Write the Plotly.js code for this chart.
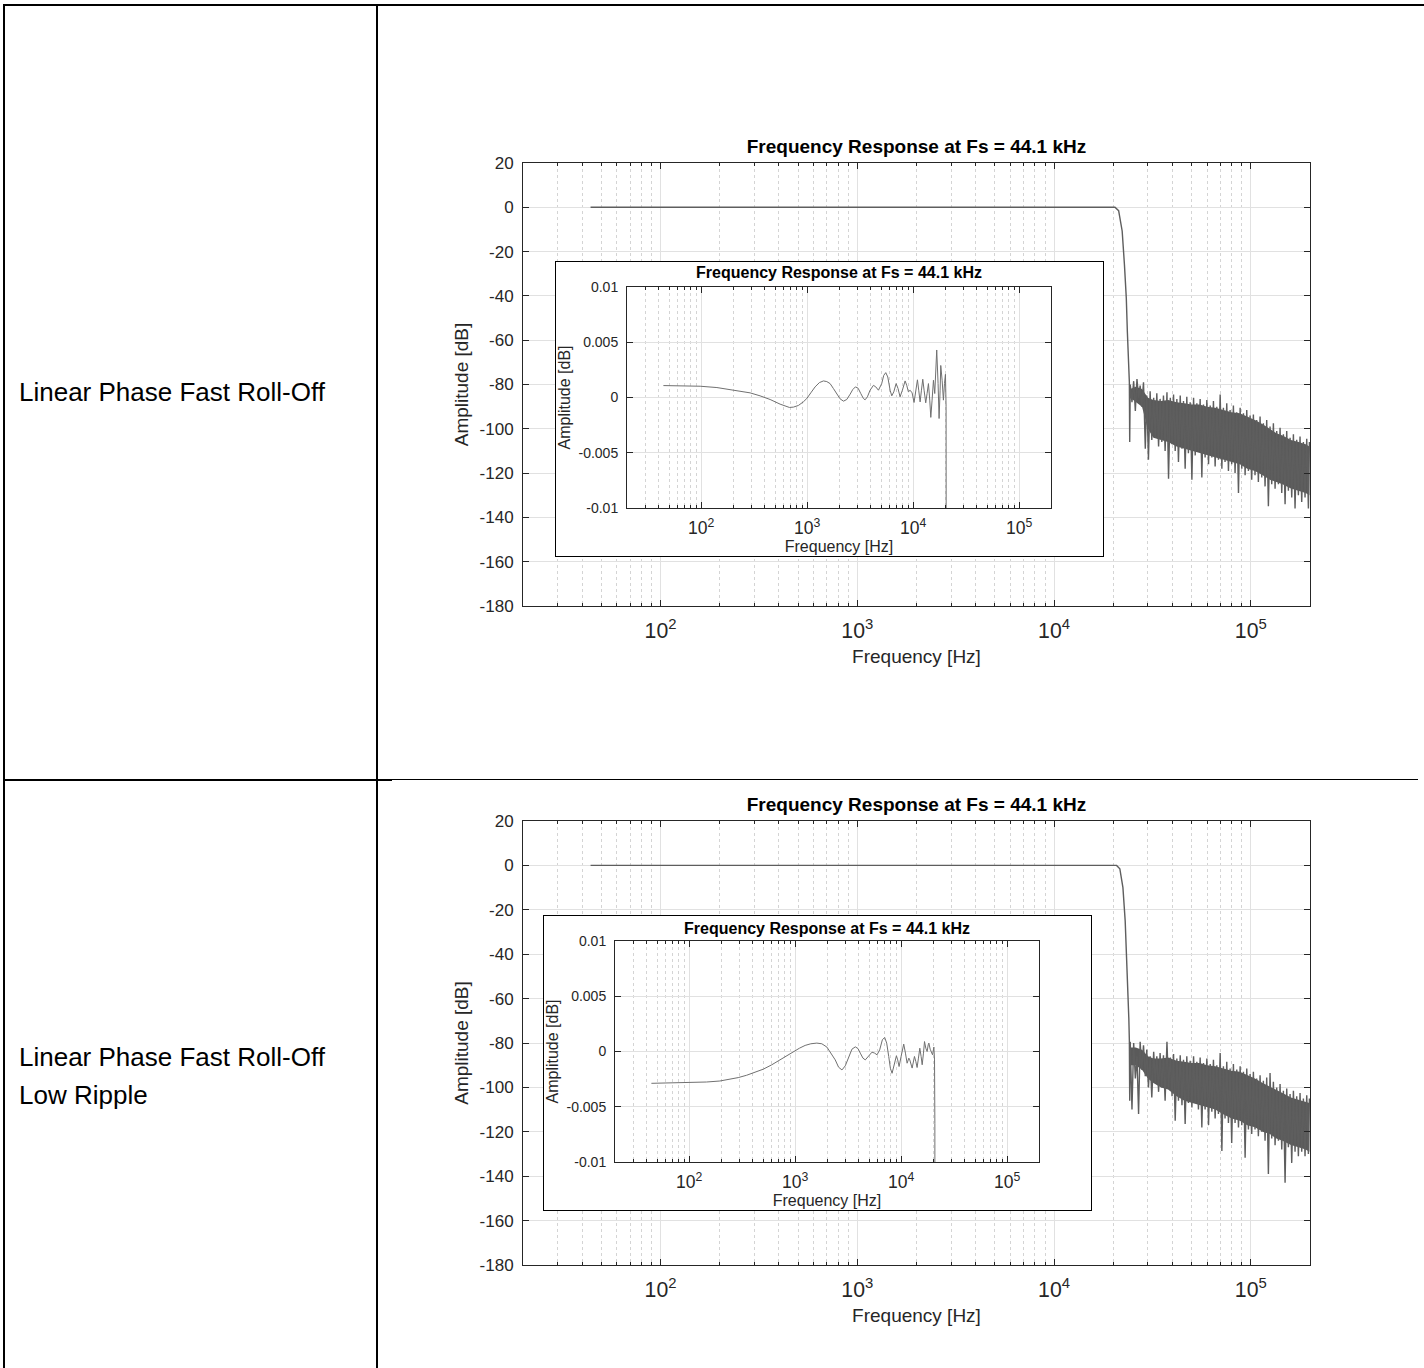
<!DOCTYPE html>
<html>
<head>
<meta charset="utf-8">
<script src="https://cdn.plot.ly/plotly-3.0.1.min.js"></script>
<style>
  html,body{margin:0;padding:0;}
  body{width:1424px;height:1368px;position:relative;background:#fff;overflow:hidden;}
  .ln{position:absolute;background:#000;}
  .lbl{position:absolute;left:19px;font-family:"Liberation Sans",Arial,sans-serif;font-size:26px;color:#000;line-height:38px;white-space:nowrap;}
  .chart{position:absolute;}
  .inset{position:absolute;box-sizing:border-box;border:1.3px solid #000;background:#fff;overflow:hidden;}
</style>
</head>
<body>
<!-- table grid -->
<div class="ln" style="left:3px;top:4px;width:1421px;height:2px"></div>
<div class="ln" style="left:3px;top:4px;width:2px;height:1364px"></div>
<div class="ln" style="left:376px;top:4px;width:2px;height:1364px"></div>
<div class="ln" style="left:3px;top:779px;width:389px;height:2px"></div>
<div class="ln" style="left:392px;top:779px;width:1026px;height:1px"></div>

<div class="lbl" style="top:373px">Linear Phase Fast Roll-Off</div>
<div class="lbl" style="top:1038px">Linear Phase Fast Roll-Off<br>Low Ripple</div>

<div id="main1" class="chart" style="left:380px;top:110px;width:1040px;height:600px"></div>
<div class="inset" style="left:555px;top:261px;width:549px;height:296px"><div id="inset1" style="width:547px;height:294px"></div></div>

<div id="main2" class="chart" style="left:380px;top:782px;width:1040px;height:586px"></div>
<div class="inset" style="left:543px;top:915px;width:549px;height:296px"><div id="inset2" style="width:547px;height:294px"></div></div>

<script>
// ---------------- DATA ----------------
const chartTitle = 'Frequency Response at Fs = 44.1 kHz';
const xTitle = 'Frequency [Hz]';
const yTitle = 'Amplitude [dB]';
const mainYTicks = [-180, -160, -140, -120, -100, -80, -60, -40, -20, 0, 20];
const insetYTicks = [-0.01, -0.005, 0, 0.005, 0.01];
const insetYLabels = ['-0.01', '-0.005', '0', '0.005', '0.01'];

// Chart 1: passband + transition (Hz, dB)
const passF1 = [44.1, 100, 1000, 10000, 20400, 21300, 22200, 22800, 23300, 23600, 24000, 24150, 24250];
const passDb1 = [0, 0, 0, 0, 0, -1.5, -10.7, -26, -41, -56.5, -70, -79, -106];
// Chart 1: stopband noise (Hz, dB)
const noiseF1 = [24400,24900,25400,25900,26400,26900,27400,27900,28500,29100,29600,30200,30800,31400,32100,32700,33300,34000,34600,35300,36000,36700,37500,38200,39000,39800,40500,41300,42100,42900,43800,44700,45500,46400,47300,48200,49200,50200,51200,52200,53200,54200,55300,56400,57500,58600,59800,61000,62200,63400,64600,65900,67200,68500,69900,71300,72600,74000,75500,77000,78500,80000,81600,83200,84900,86600,88300,90000,91800,93600,95400,97300,99200,101100,103100,105100,107200,109300,111500,113700,115900,118200,120500,122900,125300,127800,130300,132900,135500,138200,140900,143700,146500,149400,152300,155300,158400,161500,164700,167900,171200,174600,178000,181500,185100,188700,192500,196300,198600];
const noiseDb1 = [-80,-88,-78.5,-92,-77.5,-86,-80.5,-90,-79,-109,-85,-114,-83,-105,-86,-104,-84,-108,-86.5,-106,-85,-110,-83.5,-122.5,-86,-107,-84.5,-110,-86.5,-115,-85,-109,-87.5,-118,-85.5,-111,-88,-123,-86,-112,-88.5,-110,-86.5,-122,-89,-113,-87,-116,-89.5,-113,-87.5,-117,-90,-114,-84.5,-118,-90.5,-115,-88.5,-119,-91.5,-116,-89.5,-120,-92.5,-129,-90.5,-118,-93,-121,-91.5,-119,-94,-123,-93.5,-121,-96,-124,-94.5,-122,-97.5,-126,-96,-135,-99,-125,-97.5,-127,-101,-125,-99.5,-129,-102.5,-134,-101,-128,-104,-131,-102.5,-136,-105,-130,-103.5,-133,-106,-131,-104.5,-136,-106];
// Chart 1: dense noise band envelope (Hz, dB)
const bandF1 = [24400,26000,28000,30000,32000,35000,38000,42000,46000,50000,55000,60000,66000,72000,80000,88000,96000,105000,115000,125000,135000,145000,160000,175000,190000,198600];
const bandTop1 = [-82,-81,-82,-86,-87,-87.5,-87,-88,-88.5,-89,-89,-90,-90.5,-91.5,-92.5,-93,-94.5,-96,-98,-100,-102,-103,-105,-106,-107,-108];
const bandBot1 = [-86,-88,-90,-100,-104,-105,-106,-108,-109,-110,-111,-112,-113,-114,-115,-116,-118,-119,-121,-123,-124,-125,-127,-128,-129,-130];

// Chart 2: passband + transition (Hz, dB)
const passF2 = [44.1, 100, 1000, 10000, 20800, 21600, 22400, 23000, 23400, 23700, 24000, 24150, 24250];
const passDb2 = [0, 0, 0, 0, 0, -1.5, -10, -25, -40, -55, -69, -79, -106];
// Chart 2: stopband noise (Hz, dB)
const noiseF2 = [24400,24900,25400,25900,26400,26900,27400,27900,28500,29100,29600,30200,30800,31400,32100,32700,33300,34000,34600,35300,36000,36700,37500,38200,39000,39800,40500,41300,42100,42900,43800,44700,45500,46400,47300,48200,49200,50200,51200,52200,53200,54200,55300,56400,57500,58600,59800,61000,62200,63400,64600,65900,67200,68500,69900,71300,72600,74000,75500,77000,78500,80000,81600,83200,84900,86600,88300,90000,91800,93600,95400,97300,99200,101100,103100,105100,107200,109300,111500,113700,115900,118200,120500,122900,125300,127800,130300,132900,135500,138200,140900,143700,146500,149400,152300,155300,158400,161500,164700,167900,171200,174600,178000,181500,185100,188700,192500,196300,198600];
const noiseDb2 = [-79.5,-110,-80,-96,-86,-112,-79.5,-92,-81,-95,-83,-100,-86,-104.5,-84,-98,-86,-102,-84.5,-100,-85.5,-106,-79.5,-100,-86.5,-104,-85,-115,-87,-106,-85.5,-108,-87.5,-116.5,-86,-107,-88,-109,-86,-107,-88.5,-110,-86.5,-118,-89,-110,-87,-117,-89.5,-111,-87.5,-114,-90,-112,-84.5,-128.7,-90.5,-114,-88.5,-116,-91.5,-125,-89.5,-116,-92,-118,-90.5,-117,-93,-131.7,-91.5,-119,-94,-121,-93,-119,-96,-122,-94.5,-120,-97,-124,-95.5,-139,-93.5,-123,-97.5,-126,-100,-124,-98.5,-128,-101.5,-143,-100.5,-127,-103,-134,-101.5,-129,-104,-131,-102.5,-129,-105,-131,-103.5,-130,-105];
const bandF2 = [24400,26000,28000,30000,32000,35000,38000,42000,46000,50000,55000,60000,66000,72000,80000,88000,96000,105000,115000,125000,135000,145000,160000,175000,190000,198600];
const bandTop2 = [-82,-82,-83,-86,-87,-87,-86.5,-88,-88.5,-89,-89,-90,-90.5,-91.5,-92.5,-93,-94.5,-96,-98,-99.5,-101,-102.5,-104.5,-105.5,-106.5,-107];
const bandBot2 = [-90,-90,-92,-96,-98,-100,-101,-104,-106,-107,-108,-109,-110,-112,-114,-115,-117,-118,-120,-121,-123,-124,-126,-127,-128,-129];

// Inset 1: passband ripple (Hz, dB)
const rippleF1 = [44.1,68,98,141,188,233,290,360,448,556,620,681,743,828,923,994,1084,1190,1307,1426,1534,1648,1772,1906,2048,2204,2368,2546,2698,2858,3029,3209,3400,3524,3707,3928,4227,4446,4712,5058,5284,5523,5770,6072,6293,6576,6918,7211,7534,7925,8408,8710,9036,9370,9790,10210,10590,10990,11300,11650,11990,12340,12700,13160,13550,13960,14360,14690,15110,15560,16010,16710,17210,17590,17990,18240,18790,19320,19770,20190,20480,20600,20650];
const rippleDb1 = [0.00108,0.00106,0.00102,0.0009,0.00072,0.0006,0.00042,0.00015,-0.00018,-0.0006,-0.00078,-0.0009,-0.00087,-0.00072,-0.00039,-0.00009,0.00042,0.00096,0.00135,0.0015,0.00144,0.00126,0.00081,0.00036,-0.00012,-0.00033,-0.00018,0.0003,0.00072,0.00096,0.00084,0.00036,-0.00009,-0.00021,0.00006,0.00066,0.0011,0.00096,0.00066,0.00126,0.002,0.00225,0.00186,0.00066,0.00015,0.00051,0.00126,0.00081,0.00006,0.00066,0.0015,0.0011,0.00051,0.00066,0.00042,-0.00045,0.00066,0.0016,0.00066,-0.0004,0.00066,0.00165,0.00066,-0.00048,0.00036,0.00126,-0.00024,-0.0018,-0.00024,0.00156,0.00036,0.0043,0.00126,-0.0019,0.00066,0.0029,0.00156,-0.00024,0.00126,0.0021,-0.00084,-0.0077,-0.05];

// Inset 2: passband ripple (Hz, dB)
const rippleF2 = [44.1,61,88,146,195,243,291,349,418,501,601,721,834,964,1099,1244,1407,1604,1788,1995,2192,2392,2572,2768,2974,3200,3439,3698,3920,4123,4368,4594,4943,5317,5634,5929,6283,6658,7000,7314,7643,7925,8220,8526,9036,9290,9575,10000,10590,10990,11400,11830,12080,12710,13370,13770,14160,14580,15020,15450,15810,16260,16630,17110,17610,18020,18280,18810,19360,19810,20380,20670,20830,20900];
const rippleDb2 = [-0.00288,-0.00286,-0.00285,-0.00276,-0.00267,-0.00251,-0.00236,-0.00215,-0.00191,-0.0016,-0.00121,-0.00076,-0.00036,0,0.0003,0.00055,0.0007,0.00076,0.0007,0.0004,-0.00015,-0.00076,-0.00142,-0.00167,-0.0013,-0.00045,0.00021,0.00042,0.00027,-0.00015,-0.0006,-0.00076,-0.00036,-0.00006,-0.00015,-0.0003,0.00015,0.00106,0.00127,0.00076,-0.00045,-0.00152,-0.00197,-0.00136,-0.00039,-0.00076,-0.00136,-0.00045,0.00067,-0.00015,-0.00106,-0.0006,-0.00076,-0.0015,-0.00045,-0.0009,-0.00145,-0.0006,0.0003,-0.00045,-0.0012,-0.00015,0.0009,0.0003,0,0.0006,0.00076,0.00021,0,-0.0003,0.0004,-0.00076,-0.0065,-0.05];

// ---------------- DRAWING ----------------
const FONT = '"Liberation Sans", Arial, Helvetica, sans-serif';
const AX = '#262626';
const XRANGE = [Math.log10(20), Math.log10(200000)];

function xAxis(fs, tfs, standoff, labelStandoff) {
  return {
    type: 'log', range: XRANGE, dtick: 1, tick0: 0, exponentformat: 'power',
    ticks: 'inside', ticklen: 6, tickcolor: AX, tickwidth: 1,
    showline: true, linecolor: AX, linewidth: 1, mirror: 'ticks',
    showgrid: true, gridcolor: '#e1e1e1', gridwidth: 1, zeroline: false,
    tickfont: {family: FONT, size: fs, color: AX},
    ticklabelstandoff: labelStandoff,
    minor: {dtick: 'D1', ticks: 'inside', ticklen: 3, tickcolor: AX, showgrid: true, gridcolor: '#d4d4d4', griddash: 'dot', gridwidth: 1},
    title: {text: xTitle, font: {family: FONT, size: tfs, color: AX}, standoff: standoff}
  };
}
function yAxis(range, vals, texts, fs, tfs, standoff, labelStandoff) {
  return {
    range: range, tickmode: 'array', tickvals: vals, ticktext: texts,
    ticks: 'inside', ticklen: 6, tickcolor: AX, tickwidth: 1,
    showline: true, linecolor: AX, linewidth: 1, mirror: 'ticks',
    showgrid: true, gridcolor: '#e1e1e1', gridwidth: 1, zeroline: false,
    tickfont: {family: FONT, size: fs, color: AX},
    ticklabelstandoff: labelStandoff,
    title: {text: yTitle, font: {family: FONT, size: tfs, color: AX}, standoff: standoff}
  };
}

function drawMain(id, h, margin, titleY, passF, passDb, noiseF, noiseDb, bandF, bandTop, bandBot) {
  const traces = [
    {x: bandF, y: bandBot, type: 'scatter', mode: 'lines', line: {width: 0, color: 'rgba(0,0,0,0)'}, hoverinfo: 'skip'},
    {x: bandF, y: bandTop, type: 'scatter', mode: 'lines', fill: 'tonexty', fillcolor: '#5a5a5a', line: {width: 0, color: 'rgba(0,0,0,0)'}, hoverinfo: 'skip'},
    {x: passF.concat(noiseF), y: passDb.concat(noiseDb), type: 'scatter', mode: 'lines', line: {color: '#5e5e5e', width: 1.4}}
  ];
  const layout = {
    width: 1040, height: h, margin: margin,
    paper_bgcolor: 'rgba(0,0,0,0)', plot_bgcolor: '#ffffff', showlegend: false,
    font: {family: FONT, color: AX},
    title: {text: chartTitle, font: {family: FONT, size: 19, color: '#000', weight: 'bold'},
            x: 0.5, xref: 'paper', xanchor: 'center', y: titleY, yref: 'container', yanchor: 'middle'},
    xaxis: xAxis(17, 19, 8, 6),
    yaxis: yAxis([-180, 20], mainYTicks, mainYTicks.map(String), 17, 19, 5, 5)
  };
  Plotly.newPlot(id, traces, layout, {staticPlot: true, displayModeBar: false});
}

function drawInset(id, titleY, margin, f, db) {
  const traces = [{x: f, y: db, type: 'scatter', mode: 'lines', line: {color: '#707070', width: 1}}];
  const layout = {
    width: 547, height: 294, margin: margin,
    paper_bgcolor: '#ffffff', plot_bgcolor: '#ffffff', showlegend: false,
    font: {family: FONT, color: AX},
    title: {text: chartTitle, font: {family: FONT, size: 16, color: '#000', weight: 'bold'},
            x: 0.5, xref: 'paper', xanchor: 'center', y: titleY, yref: 'container', yanchor: 'middle'},
    xaxis: xAxis(14, 16, 3, 5),
    yaxis: yAxis([-0.01, 0.01], insetYTicks, insetYLabels, 14, 16, 4, 5)
  };
  Plotly.newPlot(id, traces, layout, {staticPlot: true, displayModeBar: false});
}

drawMain('main1', 600, {l: 143, r: 110, t: 53, b: 104}, 0.94, passF1, passDb1, noiseF1, noiseDb1, bandF1, bandTop1, bandBot1);
drawInset('inset1', 0.963, {l: 71, r: 52, t: 25, b: 48}, rippleF1, rippleDb1);
drawMain('main2', 586, {l: 143, r: 110, t: 39, b: 103}, 0.9625, passF2, passDb2, noiseF2, noiseDb2, bandF2, bandTop2, bandBot2);
drawInset('inset2', 0.959, {l: 71, r: 52, t: 25, b: 48}, rippleF2, rippleDb2);
</script>
</body>
</html>
